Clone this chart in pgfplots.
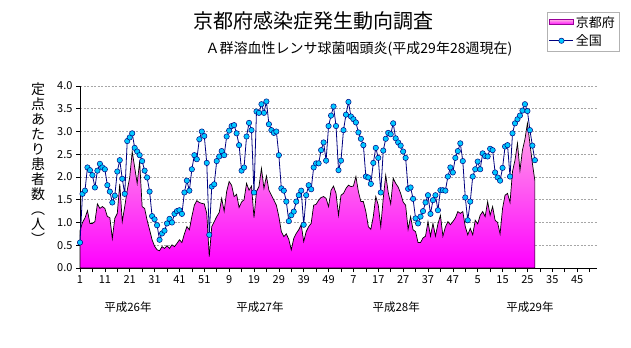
\documentclass[border=0pt]{standalone}
\usepackage{pgfplots}
\pgfplotsset{compat=1.18}
\usepackage{pgfplotstable}
\usepackage{fontspec}
\setmainfont{Noto Sans CJK JP}
\definecolor{navyb}{RGB}{0,0,128}
\definecolor{cyanm}{RGB}{0,200,255}
\definecolor{magb}{RGB}{255,0,255}
\definecolor{pinkt}{RGB}{255,165,230}

\pgfplotstableread{
x y
1 0.82
2 1.00
3 1.10
4 1.26
5 0.98
6 0.98
7 1.02
8 1.41
9 1.31
10 1.35
11 1.31
12 1.13
13 1.11
14 0.65
15 1.09
16 1.20
17 1.85
18 1.02
19 1.35
20 1.71
21 1.99
22 2.56
23 2.21
24 1.86
25 2.34
26 1.35
27 1.31
28 1.05
29 0.84
30 0.62
31 0.48
32 0.40
33 0.38
34 0.47
35 0.43
36 0.49
37 0.43
38 0.51
39 0.47
40 0.54
41 0.62
42 0.56
43 0.75
44 0.91
45 0.84
46 1.13
47 1.38
48 1.48
49 1.44
50 1.42
51 1.41
52 1.20
53 0.25
54 0.91
55 1.02
56 1.13
57 1.22
58 1.53
59 1.25
60 1.68
61 1.90
62 1.82
63 1.57
64 1.62
65 1.33
66 1.45
67 1.50
68 1.86
69 1.71
70 1.80
71 1.11
72 1.68
73 1.79
74 2.19
75 1.75
76 2.02
77 1.71
78 1.60
79 1.49
80 1.38
81 1.13
82 0.80
83 0.69
84 0.75
85 0.63
86 0.40
87 0.65
88 0.76
89 0.84
90 0.95
91 0.58
92 0.80
93 0.91
94 0.98
95 1.38
96 1.40
97 1.49
98 1.55
99 1.57
100 1.53
101 1.35
102 1.71
103 1.80
104 1.64
105 1.16
106 1.60
107 1.64
108 1.75
109 1.82
110 1.79
111 1.80
112 2.01
113 1.68
114 1.46
115 1.46
116 1.24
117 0.91
118 0.85
119 1.13
120 1.57
121 1.38
122 0.91
123 1.53
124 2.04
125 1.66
126 1.41
127 1.97
128 1.86
129 1.78
130 1.64
131 1.45
132 1.38
133 0.85
134 1.13
135 0.84
136 0.80
137 0.56
138 0.56
139 0.66
140 0.70
141 1.02
142 0.70
143 0.98
144 0.70
145 0.97
146 1.16
147 0.70
148 0.90
149 1.02
150 0.95
151 1.02
152 1.10
153 1.24
154 1.20
155 1.24
156 0.91
157 0.73
158 0.87
159 0.73
160 1.05
161 0.97
162 1.16
163 1.24
164 1.13
165 1.46
166 1.16
167 1.35
168 1.05
169 1.00
170 0.75
171 1.31
172 1.60
173 1.64
174 1.44
175 2.12
176 2.37
177 2.74
178 2.14
179 2.59
180 2.83
181 3.18
182 2.74
183 2.30
184 1.92
}\kyoto

\pgfplotstableread{
x y
1 0.56
2 1.63
3 1.70
4 2.21
5 2.15
6 2.04
7 1.77
8 2.14
9 2.29
10 2.21
11 2.17
12 1.82
13 1.68
14 1.44
15 1.59
16 2.12
17 2.37
18 1.96
19 1.63
20 2.79
21 2.87
22 2.96
23 2.64
24 2.56
25 2.48
26 2.35
27 2.14
28 1.99
29 1.68
30 1.14
31 1.07
32 0.94
33 0.62
34 0.76
35 0.82
36 0.98
37 1.08
38 1.00
39 1.19
40 1.25
41 1.27
42 1.19
43 1.66
44 1.92
45 1.70
46 2.17
47 2.48
48 2.39
49 2.83
50 3.00
51 2.90
52 2.31
53 0.73
54 1.79
55 1.84
56 2.35
57 2.45
58 2.57
59 2.48
60 2.89
61 3.02
62 3.12
63 3.14
64 2.96
65 2.70
66 2.14
67 2.21
68 2.89
69 3.19
70 3.03
71 1.66
72 3.44
73 3.41
74 3.60
75 3.41
76 3.66
77 3.16
78 3.03
79 2.97
80 3.00
81 2.48
82 1.75
83 1.70
84 1.46
85 1.03
86 1.16
87 1.24
88 1.46
89 1.60
90 1.70
91 0.95
92 1.60
93 1.82
94 1.73
95 2.21
96 2.30
97 2.30
98 2.59
99 2.76
100 2.36
101 3.12
102 3.35
103 3.55
104 3.12
105 2.15
106 2.36
107 3.03
108 3.37
109 3.65
110 3.33
111 3.27
112 3.20
113 2.98
114 2.84
115 2.70
116 2.01
117 1.99
118 1.85
119 2.31
120 2.64
121 2.42
122 1.66
123 2.58
124 2.84
125 2.97
126 2.94
127 3.18
128 2.85
129 2.76
130 2.69
131 2.56
132 2.42
133 1.74
134 1.77
135 1.52
136 1.09
137 0.98
138 1.13
139 1.25
140 1.44
141 1.60
142 1.19
143 1.49
144 1.60
145 1.27
146 1.71
147 1.71
148 1.70
149 2.01
150 2.21
151 2.10
152 2.42
153 2.57
154 2.74
155 2.35
156 1.55
157 1.05
158 1.46
159 2.01
160 2.17
161 2.34
162 2.17
163 2.52
164 2.46
165 2.45
166 2.62
167 2.59
168 2.10
169 1.99
170 1.92
171 2.20
172 2.67
173 2.70
174 2.01
175 2.96
176 3.18
177 3.27
178 3.35
179 3.46
180 3.60
181 3.45
182 3.03
183 2.69
184 2.37
}\zenkoku

\begin{document}
\begin{tikzpicture}[x=1bp,y=1bp]
\path[use as bounding box] (0,0) rectangle (631,347);
\node[font=\fontsize{20bp}{24bp}\selectfont] at (313,326) {京都府感染症発生動向調査};
\node[font=\fontsize{14bp}{16bp}\selectfont] at (359,298) {Ａ群溶血性レンサ球菌咽頭炎(平成29年28週現在)};
\node[font=\fontsize{14bp}{15bp}\selectfont, align=center, inner sep=0pt, anchor=north] at (38,264) {定\\点\\あ\\た\\り\\患\\者\\数\\︵\\人\\︶};
\begin{axis}[
  at={(80bp,79bp)}, anchor=south west,
  scale only axis, width=517bp, height=182bp,
  xmin=1, xmax=209, ymin=0, ymax=4,
  axis lines*=left,
  axis line style={black, line width=0.8bp},
  tick align=outside,
  major tick length=4bp, minor tick length=4bp,
  tick style={black, line width=0.6bp},
  xtick={1,11,...,201},
  xticklabels={1,11,21,31,41,51,9,19,29,39,49,7,17,27,37,47,5,15,25,35,45},
  minor xtick={6,16,...,206},
  ytick={0,0.5,...,4},
  ymajorgrids,
  grid style={gray!70, dash pattern=on 2bp off 1.5bp, line width=0.6bp},
  yticklabel style={/pgf/number format/.cd, fixed, fixed zerofill, precision=1, assume math mode=true},
  xticklabel style={/pgf/number format/assume math mode=true},
  tick label style={font=\fontsize{11bp}{13bp}\selectfont},
  clip=false,
  legend style={at={(0.903,1.407)}, anchor=north west, draw=gray!60,
    font=\fontsize{13bp}{15bp}\selectfont, inner sep=2bp, row sep=2bp,
    legend cell align=left},
]
\addplot[draw=black, line width=0.7bp, top color=pinkt, bottom color=magb,
  legend image code/.code={\draw[draw=magb!60!black, top color=pinkt, bottom color=magb] (0bp,-2.5bp) rectangle (24bp,2.5bp);}]
  table[x=x,y=y]{\kyoto} \closedcycle;
\addlegendentry{京都府}
\addplot[navyb, line width=0.8bp, mark=*, mark size=2.7bp,
  mark options={fill=cyanm, draw=navyb, line width=0.5bp},
  legend image code/.code={\draw[navyb, line width=0.8bp] (0bp,0bp) -- (24bp,0bp); \draw[fill=cyanm, draw=navyb, line width=0.5bp] (12bp,0bp) circle (2.7bp);}]
  table[x=x,y=y]{\zenkoku};
\addlegendentry{全国}
\node[font=\fontsize{11.5bp}{13bp}\selectfont] at (axis cs:20.3,0) [yshift=-39bp] {平成26年};
\node[font=\fontsize{11.5bp}{13bp}\selectfont] at (axis cs:73.4,0) [yshift=-39bp] {平成27年};
\node[font=\fontsize{11.5bp}{13bp}\selectfont] at (axis cs:128.2,0) [yshift=-39bp] {平成28年};
\node[font=\fontsize{11.5bp}{13bp}\selectfont] at (axis cs:182,0) [yshift=-39bp] {平成29年};
\end{axis}
\end{tikzpicture}
\end{document}
